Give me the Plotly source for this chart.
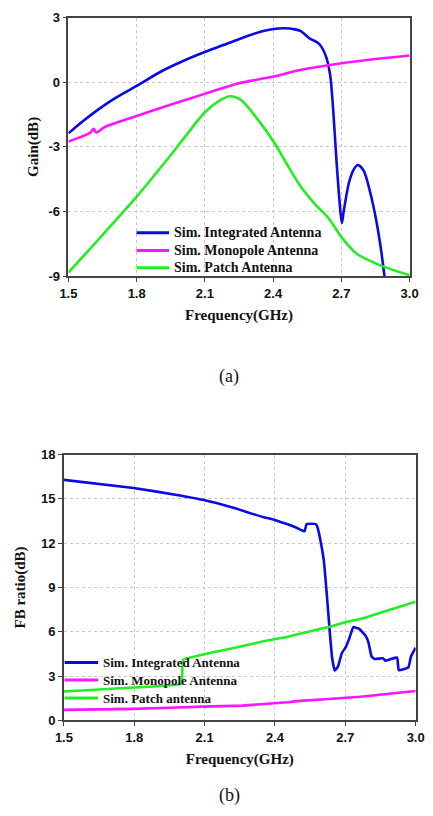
import plotly.graph_objects as go

# ---------------- data: (a) Gain ----------------
gain_int_f = [1.5, 1.562, 1.632, 1.702, 1.8, 1.913, 1.997, 2.102, 2.194, 2.278, 2.348, 2.402,
              2.447, 2.496, 2.52, 2.559, 2.601, 2.629, 2.650, 2.664, 2.678, 2.692, 2.702, 2.71,
              2.734, 2.756, 2.772, 2.798, 2.826, 2.854, 2.875, 2.889, 2.895]
gain_int = [-2.37, -1.82, -1.26, -0.76, -0.17, 0.53, 0.95, 1.41, 1.77, 2.11, 2.35, 2.47,
            2.50, 2.45, 2.38, 2.04, 1.79, 1.29, 0.38, -1.29, -3.57, -5.54, -6.53, -6.0,
            -4.63, -4.02, -3.84, -4.10, -5.08, -6.45, -7.82, -8.95, -9.4]

gain_mono_f = [1.5, 1.597, 1.611, 1.622, 1.66, 1.8, 1.955, 2.102, 2.25, 2.402, 2.503, 2.702,
               2.882, 3.0]
gain_mono = [-2.75, -2.33, -2.16, -2.33, -2.08, -1.57, -1.02, -0.53, -0.05, 0.26, 0.53, 0.88,
             1.11, 1.24]

gain_patch_f = [1.5, 1.611, 1.8, 1.948, 1.99, 2.102, 2.166, 2.211, 2.257, 2.334, 2.405, 2.455,
                2.517, 2.587, 2.643, 2.702, 2.769, 2.882, 3.0]
gain_patch = [-8.83, -7.54, -5.31, -3.4, -2.84, -1.37, -0.84, -0.65, -0.81, -1.75, -2.81, -3.7,
              -4.78, -5.69, -6.30, -7.21, -7.97, -8.54, -8.95]

# ---------------- data: (b) FB ratio ----------------
fb_int_f = [1.5, 1.797, 1.995, 2.097, 2.219, 2.356, 2.376, 2.451, 2.492, 2.526, 2.535, 2.574,
            2.581, 2.594, 2.608, 2.617, 2.626, 2.635, 2.644, 2.655, 2.669, 2.685, 2.703, 2.717,
            2.734, 2.758, 2.785, 2.798, 2.812, 2.826, 2.86, 2.871, 2.894, 2.921, 2.928, 2.969,
            2.980, 3.0]
fb_int = [16.29, 15.74, 15.23, 14.92, 14.41, 13.74, 13.68, 13.3, 13.05, 12.8, 13.3, 13.3,
          13.1, 12.19, 10.86, 9.31, 7.54, 5.76, 4.21, 3.37, 3.66, 4.55, 4.99, 5.55,
          6.32, 6.21, 5.76, 5.32, 4.32, 4.15, 4.21, 4.04, 4.15, 4.26, 3.39, 3.59,
          4.32, 4.92]

fb_mono_f = [1.5, 1.797, 2.097, 2.26, 2.451, 2.492, 2.764, 3.0]
fb_mono = [0.71, 0.78, 0.93, 1.0, 1.22, 1.3, 1.6, 1.99]

fb_patch_f = [1.5, 1.797, 2.001, 2.008, 2.097, 2.219, 2.356, 2.451, 2.492, 2.628, 2.699, 2.764,
              2.846, 3.0]
fb_patch = [1.95, 2.22, 2.49, 4.1, 4.48, 4.88, 5.37, 5.65, 5.81, 6.32, 6.65, 6.87, 7.27, 8.03]

x_ticks = [1.5, 1.8, 2.1, 2.4, 2.7, 3.0]
x_ticktext = ["1.5", "1.8", "2.1", "2.4", "2.7", "3.0"]
gain_ticks = [-9, -6, -3, 0, 3]
gain_ticktext = ["-9", "-6", "-3", "0", "3"]
fb_ticks = [0, 3, 6, 9, 12, 15, 18]
fb_ticktext = ["0", "3", "6", "9", "12", "15", "18"]

names_a = ["Sim. Integrated Antenna", "Sim. Monopole Antenna", "Sim. Patch Antenna"]
names_b = ["Sim. Integrated Antenna", "Sim. Monopole Antenna", "Sim. Patch antenna"]
colors = ["#0a0ae8", "#ff14ff", "#22ee22"]

W, H = 433, 816
def px(x):
    return x / W
def py(y):
    return 1 - y / H

fig = go.Figure()
series_a = [(gain_int_f, gain_int), (gain_mono_f, gain_mono), (gain_patch_f, gain_patch)]
series_b = [(fb_int_f, fb_int), (fb_mono_f, fb_mono), (fb_patch_f, fb_patch)]
for (xs, ys), n, c in zip(series_a, names_a, colors):
    fig.add_trace(go.Scatter(x=xs, y=ys, mode="lines", name=n, showlegend=False,
                             line=dict(color=c, width=2.6, shape="spline", smoothing=0.8),
                             xaxis="x", yaxis="y"))
for (xs, ys), n, c in zip(series_b, names_b, colors):
    fig.add_trace(go.Scatter(x=xs, y=ys, mode="lines", name=n, showlegend=False,
                             line=dict(color=c, width=2.6, shape="spline", smoothing=0.3),
                             xaxis="x2", yaxis="y2"))

tickfont = dict(family="Liberation Sans, Arial", size=13, color="#111", weight="bold")
titlefont = dict(family="Liberation Serif, Times New Roman", size=15, color="#111", weight="bold")
common = dict(showline=True, mirror=True, linecolor="#444", linewidth=1.5,
              ticks="outside", ticklen=4, tickwidth=1.2, tickcolor="#444",
              showgrid=True, gridcolor="#c8c8c8", griddash="dot", gridwidth=1,
              zeroline=False, tickfont=tickfont)

fig.update_layout(
    width=W, height=H, margin=dict(l=0, r=0, t=0, b=0),
    paper_bgcolor="white", plot_bgcolor="white",
    xaxis=dict(domain=[px(62), px(418)], anchor="y", range=[1.5, 3.0],
               tickvals=x_ticks, ticktext=x_ticktext,
               title=dict(text="Frequency(GHz)", font=titlefont, standoff=10), **common),
    yaxis=dict(domain=[py(274.3), py(10.7)], anchor="x", range=[-9, 3],
               tickvals=gain_ticks, ticktext=gain_ticktext,
               title=dict(text="Gain(dB)", font=titlefont, standoff=6), **common),
    xaxis2=dict(domain=[px(57.3), px(424.3)], anchor="y2", range=[1.5, 3.0],
                tickvals=x_ticks, ticktext=x_ticktext,
                title=dict(text="Frequency(GHz)", font=titlefont, standoff=10), **common),
    yaxis2=dict(domain=[py(726.7), py(456)], anchor="x2", range=[0, 18],
                tickvals=fb_ticks, ticktext=fb_ticktext,
                title=dict(text="FB ratio(dB)", font=titlefont, standoff=12), **common),
)

# manual legends
legfont_a = dict(family="Liberation Serif, Times New Roman", size=14, color="#111", weight="bold")
legfont_b = dict(family="Liberation Serif, Times New Roman", size=13, color="#111", weight="bold")
rows_a = [230, 248, 265.7]
rows_b = [667.7, 685.7, 704]
for n, c, r in zip(names_a, colors, rows_a):
    fig.add_shape(type="line", xref="paper", yref="paper", x0=px(133), x1=px(167),
                  y0=py(r), y1=py(r), line=dict(color=c, width=3))
    fig.add_annotation(xref="paper", yref="paper", x=px(170), y=py(r), text=n,
                       showarrow=False, xanchor="left", yanchor="middle", font=legfont_a)
for n, c, r in zip(names_b, colors, rows_b):
    fig.add_shape(type="line", xref="paper", yref="paper", x0=px(58), x1=px(93),
                  y0=py(r), y1=py(r), line=dict(color=c, width=3))
    fig.add_annotation(xref="paper", yref="paper", x=px(96), y=py(r), text=n,
                       showarrow=False, xanchor="left", yanchor="middle", font=legfont_b)

capfont = dict(family="Liberation Serif, Times New Roman", size=18, color="#111")
fig.add_annotation(xref="paper", yref="paper", x=px(230), y=py(376), text="(a)",
                   showarrow=False, xanchor="center", yanchor="middle", font=capfont)
fig.add_annotation(xref="paper", yref="paper", x=px(230), y=py(803), text="(b)",
                   showarrow=False, xanchor="center", yanchor="middle", font=capfont)

fig.write_html("out.html")
